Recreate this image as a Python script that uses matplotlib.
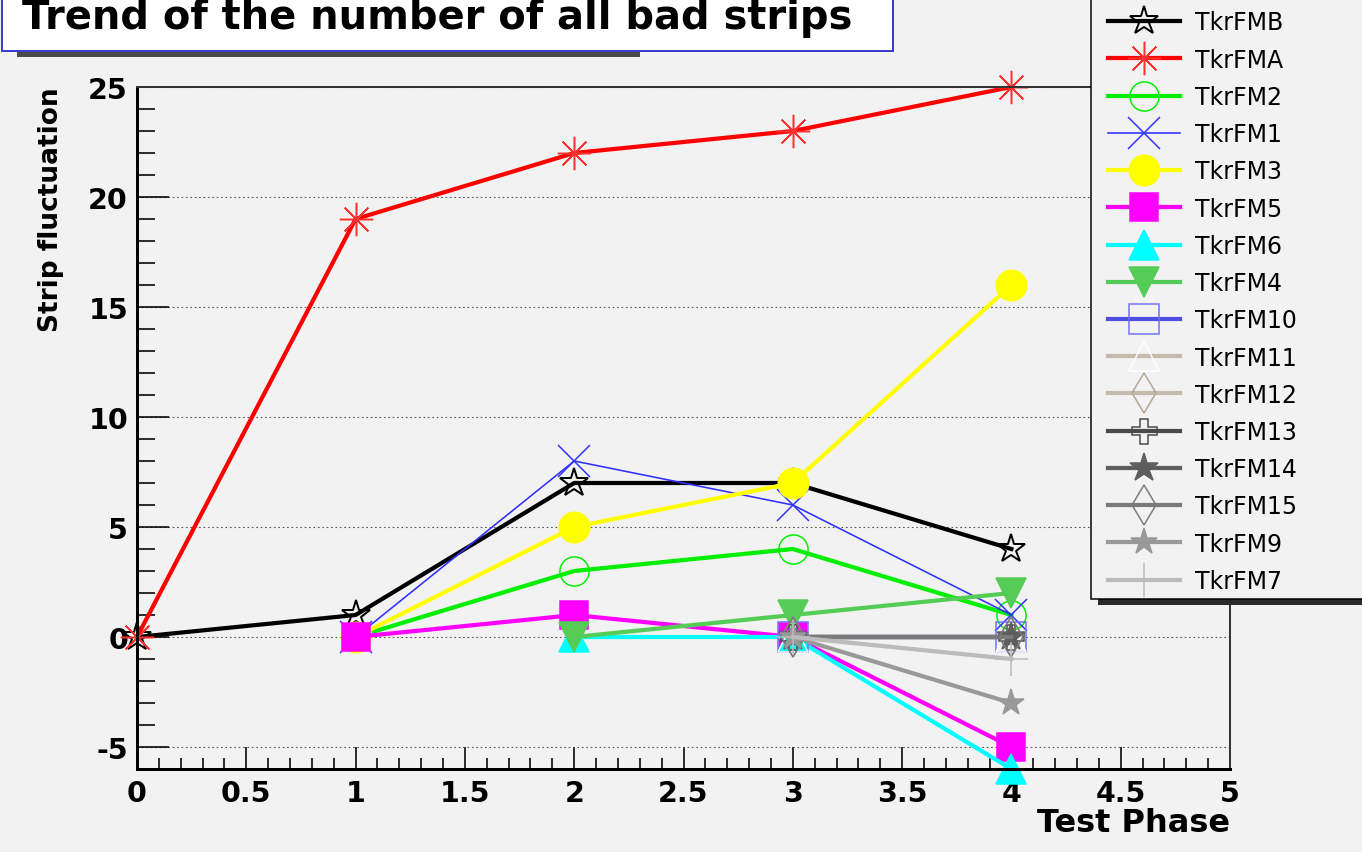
import matplotlib.pyplot as plt
from matplotlib.patches import Rectangle
from matplotlib.ticker import MultipleLocator, FuncFormatter

W, H = 1362, 853
PT = 0.72  # points per pixel at dpi=100

plt.rcParams['font.family'] = 'DejaVu Sans'
plt.rcParams['font.weight'] = 'bold'
plt.rcParams['axes.unicode_minus'] = False

# test phases at which each tower was measured
x_from0 = [0, 1, 2, 3, 4]
x_from1 = [1, 2, 3, 4]
x_from2 = [2, 3, 4]
x_from3 = [3, 4]

# change in bad strip count per tower
tkr_fmb = [0, 1, 7, 7, 4]
tkr_fma = [0, 19, 22, 23, 25]
tkr_fm2 = [0, 3, 4, 1]
tkr_fm1 = [0, 8, 6, 1]
tkr_fm3 = [0, 5, 7, 16]
tkr_fm5 = [0, 1, 0, -5]
tkr_fm6 = [0, 0, -6]
tkr_fm4 = [0, 1, 2]
tkr_fm10 = [0, 0]
tkr_fm11 = [0, 0]
tkr_fm12 = [0, 0]
tkr_fm13 = [0, 0]
tkr_fm14 = [0, 0]
tkr_fm15 = [0, 0]
tkr_fm9 = [0, -3]
tkr_fm7 = [0, -1]

title = 'Trend of the number of all bad strips'
bg = '#f2f2f2'

fig = plt.figure(figsize=(W / 100, H / 100), dpi=100, facecolor=bg)
ax = fig.add_axes([137 / W, 1 - 770 / H, (1230 - 137) / W, (770 - 88) / H])
ax.set_facecolor(bg)

thick = 4.2 * PT
thin = 1.6 * PT
mw = 1.5 * PT

# label, x, y, color, marker, size, face, edge, linewidth, edge width
series = [
    ('TkrFMB', x_from0, tkr_fmb, 'black', '*', 21, 'none', 'black', thick, 2 * PT),
    ('TkrFMA', x_from0, tkr_fma, '#ff0000', (8, 2, 0), 24, '#ff3030', '#ff3030', thick, mw),
    ('TkrFM2', x_from1, tkr_fm2, '#00ee00', 'o', 21, 'none', '#00ee00', thick, mw),
    ('TkrFM1', x_from1, tkr_fm1, '#3030ff', 'x', 23, '#3030ff', '#3030ff', thin, mw),
    ('TkrFM3', x_from1, tkr_fm3, '#ffff00', 'o', 22, '#ffff00', '#ffff00', thick, mw),
    ('TkrFM5', x_from1, tkr_fm5, '#ff00ff', 's', 20, '#ff00ff', '#ff00ff', thick, mw),
    ('TkrFM6', x_from2, tkr_fm6, '#00ffff', '^', 21, '#00ffff', '#00ffff', thick, mw),
    ('TkrFM4', x_from2, tkr_fm4, '#55cc55', 'v', 21, '#55cc55', '#55cc55', thick, mw),
    ('TkrFM10', x_from3, tkr_fm10, '#5050e0', 's', 22, 'none', '#7070ff', thick, mw),
    ('TkrFM11', x_from3, tkr_fm11, '#c4baae', '^', 21, 'none', 'white', thick, mw),
    ('TkrFM12', x_from3, tkr_fm12, '#c4baae', 'd', 20, 'none', '#b0a698', thick, mw),
    ('TkrFM13', x_from3, tkr_fm13, '#4a4a4a', 'P', 18, 'none', '#4a4a4a', thick, mw),
    ('TkrFM14', x_from3, tkr_fm14, '#5e5e5e', '*', 21, '#5e5e5e', '#5e5e5e', thick, mw),
    ('TkrFM15', x_from3, tkr_fm15, '#7a7a7a', 'd', 20, 'none', '#7a7a7a', thick, mw),
    ('TkrFM9', x_from3, tkr_fm9, '#999999', '*', 20, '#999999', '#999999', thick, mw),
    ('TkrFM7', x_from3, tkr_fm7, '#bbbbbb', '+', 24, '#bbbbbb', '#bbbbbb', thick, mw),
]

lines = []
for label, xs, ys, col, mk, ms, mfc, mec, lw, mew in series:
    ln, = ax.plot(xs, ys, color=col, lw=lw, marker=mk, ms=ms, mfc=mfc, mec=mec,
                  mew=mew, clip_on=False, label=label)
    lines.append(ln)

ax.set_xlim(0, 5)
ax.set_ylim(-6, 25)

ax.xaxis.set_major_locator(MultipleLocator(0.5))
ax.xaxis.set_minor_locator(MultipleLocator(0.1))
ax.yaxis.set_major_locator(MultipleLocator(5))
ax.yaxis.set_minor_locator(MultipleLocator(1))
ax.xaxis.set_major_formatter(FuncFormatter(lambda v, _: '%g' % v))

ax.tick_params(axis='y', which='major', direction='in', length=32 * PT, width=1.6 * PT,
               pad=9 * PT, labelsize=20.5)
ax.tick_params(axis='y', which='minor', direction='in', length=18 * PT, width=1.6 * PT)
ax.tick_params(axis='x', which='major', direction='in', length=22 * PT, width=1.6 * PT,
               pad=10 * PT, labelsize=20.5)
ax.tick_params(axis='x', which='minor', direction='in', length=11 * PT, width=1.6 * PT)

ax.yaxis.grid(True, which='major', linestyle=(0, (1.5, 2.5)), color='#555555', lw=1.1 * PT)
ax.set_axisbelow(True)

for side in ['left', 'bottom']:
    ax.spines[side].set_linewidth(3 * PT)
for side in ['top', 'right']:
    ax.spines[side].set_linewidth(2 * PT)
    ax.spines[side].set_color('#333333')

ax.set_ylabel('Strip fluctuation', fontsize=19, fontweight='bold', va='center')
ax.yaxis.set_label_coords((51 - 137) / 1093, 1 - (210 - 88) / 682)
ax.set_xlabel('Test Phase', fontsize=23, fontweight='bold', ha='right', va='center')
ax.xaxis.set_label_coords(1.0, -(824 - 770) / 682)

# title pad with its shadow
fig.patches.append(Rectangle((17 / W, 1 - 58 / H), (640 - 17) / W, 8 / H,
                             transform=fig.transFigure, fc='#4a4a4a', ec='none', zorder=1))
fig.patches.append(Rectangle((2 / W, 1 - 52 / H), 891 / W, 70 / H,
                             transform=fig.transFigure, fc='white', ec='#3c3cd2',
                             lw=2 * PT, zorder=1.1))
fig.text(22 / W, 1 - 18 / H, title, ha='left', va='center', fontsize=28.8,
         fontweight='bold', zorder=1.2)

# legend box with its shadow
fig.patches.append(Rectangle((1098 / W, 1 - 606 / H), 400 / W, 640 / H,
                             transform=fig.transFigure, fc='#2a2a2a', ec='none', zorder=2))
fig.patches.append(Rectangle((1091 / W, 1 - 600 / H), 400 / W, 640 / H,
                             transform=fig.transFigure, fc=bg, ec='black',
                             lw=1.5 * PT, zorder=2.1))

fs = 17
fs_px = fs / PT
fig.legend(handles=lines, loc='upper left', bbox_to_anchor=(1108 / W, 1 - 11.5 / H),
           bbox_transform=fig.transFigure, frameon=False, borderpad=0, borderaxespad=0,
           fontsize=fs, prop={'weight': 'normal', 'size': fs}, numpoints=1,
           handlelength=72 / fs_px, handletextpad=15 / fs_px, labelspacing=0.56)

fig.savefig('out.png', dpi=100, facecolor=bg)
